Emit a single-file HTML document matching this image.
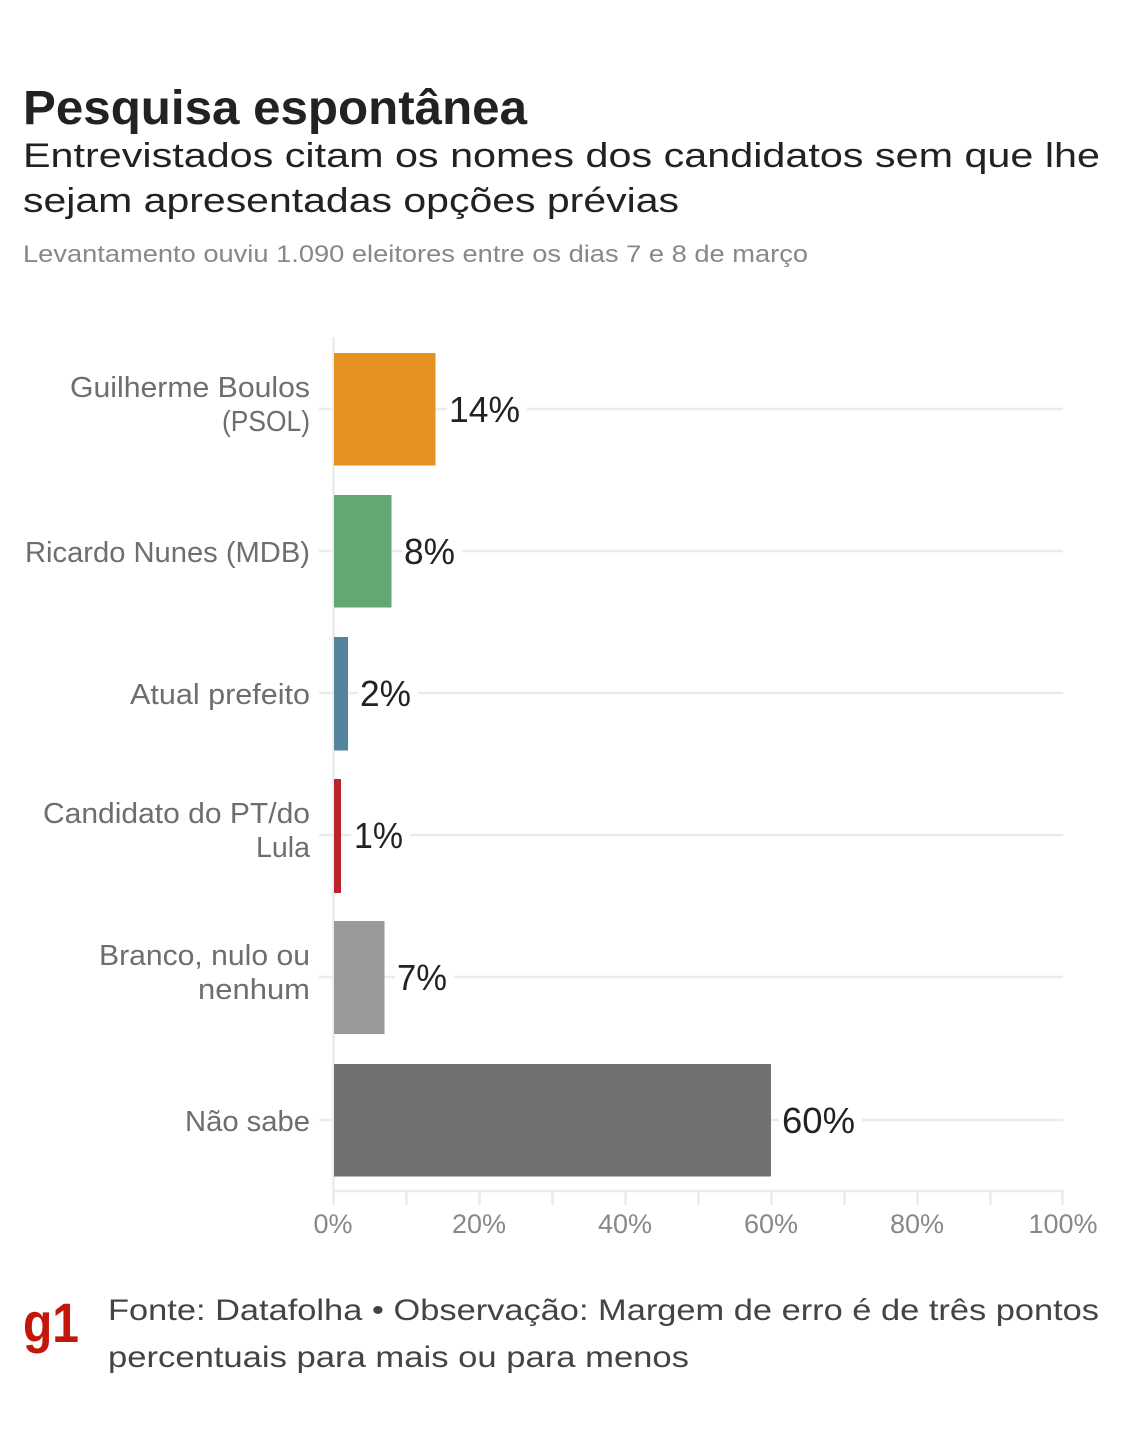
<!DOCTYPE html>
<html>
<head>
<meta charset="utf-8">
<style>
  html,body{margin:0;padding:0;background:#fff;}
  svg{display:block;}
  text{font-family:"Liberation Sans",sans-serif;}
</style>
</head>
<body>
<svg width="1125" height="1456" viewBox="0 0 1125 1456" xmlns="http://www.w3.org/2000/svg">
  <rect width="1125" height="1456" fill="#fff"/>

  <!-- Titles -->
  <text x="23" y="124" font-size="48" font-weight="bold" fill="#222" textLength="504" lengthAdjust="spacingAndGlyphs">Pesquisa espontânea</text>
  <text x="23" y="167" font-size="34" fill="#222" textLength="1077" lengthAdjust="spacingAndGlyphs">Entrevistados citam os nomes dos candidatos sem que lhe</text>
  <text x="23" y="212" font-size="34" fill="#222" textLength="656" lengthAdjust="spacingAndGlyphs">sejam apresentadas opções prévias</text>
  <text x="23" y="262" font-size="24" fill="#888" textLength="785" lengthAdjust="spacingAndGlyphs">Levantamento ouviu 1.090 eleitores entre os dias 7 e 8 de março</text>

  <!-- Gridlines + y ticks -->
  <g stroke="#ebebeb" stroke-width="2.5">
    <line x1="319" y1="409" x2="1063" y2="409"/>
    <line x1="319" y1="551" x2="1063" y2="551"/>
    <line x1="319" y1="693" x2="1063" y2="693"/>
    <line x1="319" y1="835" x2="1063" y2="835"/>
    <line x1="319" y1="977" x2="1063" y2="977"/>
    <line x1="319" y1="1120" x2="1063" y2="1120"/>
    <!-- y axis -->
    <line x1="333.5" y1="337" x2="333.5" y2="1192"/>
    <!-- x axis -->
    <line x1="332" y1="1191" x2="1064" y2="1191"/>
    <!-- x ticks -->
    <line x1="333.5" y1="1191" x2="333.5" y2="1205"/>
    <line x1="406.5" y1="1191" x2="406.5" y2="1205"/>
    <line x1="479.5" y1="1191" x2="479.5" y2="1205"/>
    <line x1="552.5" y1="1191" x2="552.5" y2="1205"/>
    <line x1="625.5" y1="1191" x2="625.5" y2="1205"/>
    <line x1="698.5" y1="1191" x2="698.5" y2="1205"/>
    <line x1="771.5" y1="1191" x2="771.5" y2="1205"/>
    <line x1="844.5" y1="1191" x2="844.5" y2="1205"/>
    <line x1="917.5" y1="1191" x2="917.5" y2="1205"/>
    <line x1="990.5" y1="1191" x2="990.5" y2="1205"/>
    <line x1="1062.5" y1="1191" x2="1062.5" y2="1205"/>
  </g>

  <!-- Bars -->
  <g fill-opacity="0.96">
    <rect x="334" y="353" width="101.5" height="112.5" fill="#e38f17"/>
    <rect x="334" y="495" width="57.5" height="112.5" fill="#5ea26e"/>
    <rect x="334" y="637" width="14" height="113.5" fill="#4e7f99"/>
    <rect x="334" y="779" width="7" height="114" fill="#b51b20"/>
    <rect x="334" y="921" width="50.5" height="113" fill="#969696"/>
    <rect x="334" y="1064" width="437" height="112.5" fill="#6b6b6b"/>
  </g>

  <!-- Value label backgrounds -->
  <g fill="#fff">
    <rect x="447" y="395" width="80" height="30"/>
    <rect x="402" y="537" width="60" height="30"/>
    <rect x="358" y="679" width="60" height="30"/>
    <rect x="351" y="821" width="59" height="30"/>
    <rect x="395" y="963" width="59" height="30"/>
    <rect x="779" y="1106" width="83" height="30"/>
  </g>

  <!-- Value labels -->
  <g font-size="36" fill="#222">
    <text x="449" y="422" textLength="71" lengthAdjust="spacingAndGlyphs">14%</text>
    <text x="404" y="564" textLength="51" lengthAdjust="spacingAndGlyphs">8%</text>
    <text x="360" y="706" textLength="51" lengthAdjust="spacingAndGlyphs">2%</text>
    <text x="354" y="848" textLength="49" lengthAdjust="spacingAndGlyphs">1%</text>
    <text x="397" y="990" textLength="50" lengthAdjust="spacingAndGlyphs">7%</text>
    <text x="782" y="1133" textLength="73" lengthAdjust="spacingAndGlyphs">60%</text>
  </g>

  <!-- Category labels -->
  <g font-size="29" fill="#6e6e6e" text-anchor="end">
    <text x="310" y="397" textLength="240" lengthAdjust="spacingAndGlyphs">Guilherme Boulos</text>
    <text x="310" y="431" textLength="88" lengthAdjust="spacingAndGlyphs">(PSOL)</text>
    <text x="310" y="562" textLength="285" lengthAdjust="spacingAndGlyphs">Ricardo Nunes (MDB)</text>
    <text x="310" y="704" textLength="180" lengthAdjust="spacingAndGlyphs">Atual prefeito</text>
    <text x="310" y="823" textLength="267" lengthAdjust="spacingAndGlyphs">Candidato do PT/do</text>
    <text x="310" y="857" textLength="54" lengthAdjust="spacingAndGlyphs">Lula</text>
    <text x="310" y="965" textLength="211" lengthAdjust="spacingAndGlyphs">Branco, nulo ou</text>
    <text x="310" y="999" textLength="112" lengthAdjust="spacingAndGlyphs">nenhum</text>
    <text x="310" y="1131" textLength="125" lengthAdjust="spacingAndGlyphs">Não sabe</text>
  </g>

  <!-- X tick labels -->
  <g font-size="27" fill="#888" text-anchor="middle">
    <text x="333" y="1233">0%</text>
    <text x="479" y="1233">20%</text>
    <text x="625" y="1233">40%</text>
    <text x="771" y="1233">60%</text>
    <text x="917" y="1233">80%</text>
    <text x="1063" y="1233">100%</text>
  </g>

  <!-- Footer -->
  <text x="23" y="1342" font-size="56" font-weight="bold" fill="#c4170c" textLength="56" lengthAdjust="spacingAndGlyphs">g1</text>
  <text x="108" y="1320" font-size="30" fill="#444" textLength="991" lengthAdjust="spacingAndGlyphs">Fonte: Datafolha • Observação: Margem de erro é de três pontos</text>
  <text x="108" y="1367" font-size="30" fill="#444" textLength="581" lengthAdjust="spacingAndGlyphs">percentuais para mais ou para menos</text>
</svg>
</body>
</html>
